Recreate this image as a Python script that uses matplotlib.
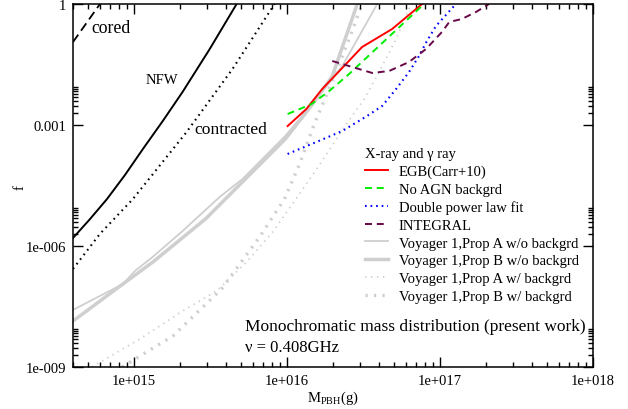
import numpy as np
import matplotlib
matplotlib.use('Agg')
import matplotlib.pyplot as plt
import matplotlib as mpl
from matplotlib.ticker import FixedLocator, NullFormatter

# ---- data ----
cored_m = [4.0e14, 6.0e14]
cored_f = [0.114, 1.0]

nfw_m = [4.0e14, 5.17e14, 6.67e14, 8.74e14, 1.145e15, 1.545e15, 2.08e15,
         3.13e15, 4.69e15]
nfw_f = [1.58e-6, 4.67e-6, 1.46e-5, 5.75e-5, 2.54e-4, 1.26e-3, 6.6e-3,
         0.0766, 1.0]

contr_m = [4.0e14, 6.0e14, 9.85e14, 2.21e15, 4.41e15, 8.3e15]
contr_f = [2.7e-7, 2.0e-6, 1.46e-5, 6.7e-4, 0.0245, 1.0]

egb_m = [1.01e16, 1.34e16, 1.70e16, 2.20e16, 3.10e16, 4.87e16, 7.64e16]
egb_f = [9.4e-4, 2.5e-3, 7.8e-3, 0.0218, 0.086, 0.24, 1.0]

noagn_m = [1.01e16, 1.45e16, 1.89e16, 2.55e16, 4.0e16, 7.87e16]
noagn_f = [1.87e-3, 3.3e-3, 6.97e-3, 0.0184, 0.091, 1.0]

dpl_m = [1.01e16, 1.56e16, 2.30e16, 3.34e16, 4.19e16, 5.17e16, 6.28e16,
         7.29e16, 8.22e16, 9.42e16, 1.27e17]
dpl_f = [1.91e-4, 3.8e-4, 7.1e-4, 1.67e-3, 2.96e-3, 7.8e-3, 0.0206,
         0.051, 0.121, 0.285, 1.0]

integral_m = [1.98e16, 2.67e16, 3.61e16, 4.65e16, 6.28e16, 8.11e16,
              1.03e17, 1.15e17, 1.39e17, 1.72e17, 2.09e17]
integral_f = [0.0386, 0.0274, 0.0195, 0.0218, 0.0365, 0.0766,
              0.202, 0.358, 0.425, 0.634, 1.0]

voyA_m = [4.0e14, 8.47e14, 1.015e15, 1.33e15, 2.08e15, 3.63e15, 5.13e15,
          9.77e15, 1.56e16, 2.30e16, 3.89e16]
voyA_f = [2.6e-8, 1.14e-7, 2.4e-7, 5.4e-7, 2.35e-6, 1.64e-5, 4.6e-5,
          5.4e-4, 4.4e-3, 0.029, 1.0]

voyB_m = [4.0e14, 8.47e14, 1.33e15, 2.94e15, 5.13e15, 9.77e15, 1.47e16,
          1.98e16, 2.88e16]
voyB_f = [1.38e-8, 1.14e-7, 4.0e-7, 4.7e-6, 3.9e-5, 4.5e-4, 3.3e-3,
          0.0164, 1.0]

voyAbg_m = [5.3e14, 1.09e15, 2.08e15, 3.47e15, 5.45e15, 8.05e15, 1.17e16,
            1.68e16, 2.37e16, 3.2e16, 4.0e16, 5.17e16, 6.47e16]
voyAbg_f = [1.0e-9, 4.9e-9, 2.44e-8, 7.7e-8, 4.0e-7, 2.2e-6, 1.64e-5,
            1.21e-4, 8.9e-4, 4.4e-3, 0.0206, 0.135, 1.0]

voyBbg_m = [8.36e14, 1.80e15, 3.74e15, 6.62e15, 9.64e15, 1.21e16, 1.51e16,
            2.04e16, 2.55e16, 3.10e16]
voyBbg_f = [1.0e-9, 5.9e-9, 8.6e-8, 1.67e-6, 1.46e-5, 1.08e-4, 1.06e-3,
            0.0164, 0.136, 1.0]

xticks = [1e15, 1e16, 1e17, 1e18]
xticklabels = ['1e+015', '1e+016', '1e+017', '1e+018']
yticks = [1e-9, 1e-6, 1e-3, 1]
yticklabels = ['1e-009', '1e-006', '0.001', '1']


def DesignChart():
    mpl.rc('font', family='Liberation Serif', size=10.5)
    mpl.rc('mathtext', fontset='custom', rm='Liberation Serif',
           it='Liberation Serif:italic')
    mpl.rc('lines', scale_dashes=False)


def Main():
    DesignChart()
    fig = plt.figure(figsize=(6.28, 4.10), dpi=100)
    ax = fig.add_axes([73/628, 1-368/410, 520/628, 363/410])

    grey = '#cfcfcf'
    ax.plot(voyA_m, voyA_f, color=grey, lw=1.3,
            label='Voyager 1,Prop A w/o backgrd', zorder=1)
    ax.plot(voyB_m, voyB_f, color=grey, lw=2.5,
            label='Voyager 1,Prop B w/o backgrd', zorder=1)
    ax.plot(voyAbg_m, voyAbg_f, color=grey, lw=1.3, dashes=(1.0, 3.3),
            label='Voyager 1,Prop A w/ backgrd', zorder=1)
    ax.plot(voyBbg_m, voyBbg_f, color=grey, lw=2.4, dashes=(1.6, 4.5),
            label='Voyager 1,Prop B w/ backgrd', zorder=1)

    ax.plot(cored_m, cored_f, color='black', lw=1.3, dashes=(6.5, 3.5))
    ax.plot(nfw_m, nfw_f, color='black', lw=1.4)
    ax.plot(contr_m, contr_f, color='black', lw=1.5, dashes=(1.2, 3.0))

    ax.plot(egb_m, egb_f, color='#ff0000', lw=1.4, label='EGB(Carr+10)')
    ax.plot(noagn_m, noagn_f, color='#00ee00', lw=1.4, dashes=(5.0, 3.5),
            label='No AGN backgrd')
    ax.plot(dpl_m, dpl_f, color='#0000ff', lw=1.5, dashes=(1.2, 2.8),
            label='Double power law fit')
    ax.plot(integral_m, integral_f, color='#670748', lw=1.4,
            dashes=(5.0, 3.5), label='INTEGRAL')

    ax.set_xscale('log')
    ax.set_yscale('log')
    ax.set_xlim(4.0e14, 1e18)
    ax.set_ylim(1e-9, 1)

    ax.set_xticks(xticks)
    ax.set_xticklabels(xticklabels)
    ax.set_yticks(yticks)
    ax.set_yticklabels(yticklabels)
    xminor = [k * 10.0**d for d in range(14, 18) for k in range(2, 10)]
    xminor = [v for v in xminor if 4.0e14 <= v <= 1e18]
    yminor = [k * 10.0**d for d in (-9, -6, -3) for k in range(2, 10)]
    ax.xaxis.set_minor_locator(FixedLocator(xminor))
    ax.yaxis.set_minor_locator(FixedLocator(yminor))
    ax.xaxis.set_minor_formatter(NullFormatter())
    ax.yaxis.set_minor_formatter(NullFormatter())
    ax.tick_params(which='both', direction='in', top=True, right=True,
                   width=1.0)
    ax.tick_params(which='major', length=7, pad=5)
    ax.tick_params(which='minor', length=3.6)
    for s in ax.spines.values():
        s.set_linewidth(1.1)

    ax.set_xlabel(r'M$_{\mathrm{PBH}}$(g)', labelpad=1)
    fig.text(20/628, 1-188/410, 'f', rotation=90, ha='center', va='center')

    ax.text(0.0346, 0.934, 'cored', fontsize=12.8, va='center',
            transform=ax.transAxes)
    ax.text(0.140, 0.793, 'NFW', fontsize=10.5, va='center',
            transform=ax.transAxes)
    ax.text(0.233, 0.656, 'contracted', fontsize=12.6, va='center',
            transform=ax.transAxes)
    ax.text(0.331, 0.113, 'Monochromatic mass distribution (present work)',
            fontsize=12.5, va='center', transform=ax.transAxes)
    ax.text(0.331, 0.055, 'ν = 0.408GHz', fontsize=12.0, va='center',
            transform=ax.transAxes)

    order = ['EGB(Carr+10)', 'No AGN backgrd', 'Double power law fit',
             'INTEGRAL', 'Voyager 1,Prop A w/o backgrd',
             'Voyager 1,Prop B w/o backgrd', 'Voyager 1,Prop A w/ backgrd',
             'Voyager 1,Prop B w/ backgrd']
    handles, labels = ax.get_legend_handles_labels()
    hd = dict(zip(labels, handles))
    ax.legend([hd[k] for k in order], order, title='X-ray and γ ray',
              loc='upper left', bbox_to_anchor=(0.5615, 0.606),
              frameon=False, borderpad=0, borderaxespad=0,
              handlelength=1.55, handletextpad=0.75, labelspacing=0.31,
              alignment='left', fontsize=10.5, title_fontsize=10.5)

    fig.savefig('out.png', dpi=100)


if __name__ == '__main__':
    Main()
